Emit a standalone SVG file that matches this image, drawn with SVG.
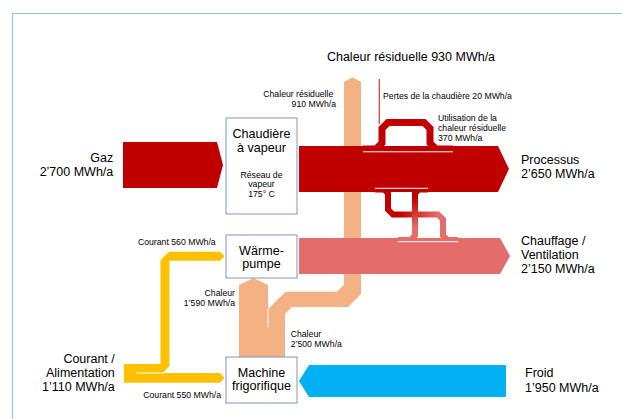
<svg xmlns="http://www.w3.org/2000/svg" width="622" height="419" viewBox="0 0 622 419">
<style>
text{font-family:"Liberation Sans",Arial,sans-serif;fill:#000}
.big{font-size:12.5px}
.box{font-size:12.6px;text-anchor:middle}
.sm{font-size:8.7px}
.end{text-anchor:end}
.mid{text-anchor:middle}
.node rect{fill:#fff;stroke:#7f93c1;stroke-width:1}
.sep{stroke:#fff;stroke-width:1;fill:none}
.band{fill:none;stroke-linejoin:miter}
</style>
<defs>
<linearGradient id="gA" gradientUnits="userSpaceOnUse" x1="400" y1="0" x2="438" y2="0">
<stop offset="0" stop-color="#c00000"/><stop offset="1" stop-color="#e46c6a"/>
</linearGradient>
<linearGradient id="gB" gradientUnits="userSpaceOnUse" x1="0" y1="198" x2="0" y2="228">
<stop offset="0" stop-color="#c00000"/><stop offset="1" stop-color="#e46c6a"/>
</linearGradient>
</defs>
<rect x="12.5" y="13.5" width="700" height="500" fill="none" stroke="#9dc3e6" stroke-width="1.2"/>

<g id="connectors">
<!-- orange heat flows -->
<polygon points="352.5,77.3 361,82 361,294 348,307 292,307 285,314 285,357 268,357 268,309 285.5,291.7 337,291.7 344,284.7 344,82" fill="#f4b183"/>
<polygon points="239,285 253.5,278 268,285 268,357 239,357" fill="#f4b183"/>
<line class="sep" x1="268" y1="309" x2="268" y2="327"/>
<!-- yellow current flows -->
<polygon points="124,364 160.5,364 160.5,260 169,251.7 220,251.7 224.5,256.2 220,260.7 169.5,260.7 169.5,366 162.5,373 124,373" fill="#ffc000"/>
<polygon points="124,373 220,373 224.5,377.8 220,382.7 124,382.7" fill="#ffc000"/>
<line class="sep" x1="136" y1="373" x2="164" y2="373"/>
<!-- main arrows -->
<polygon id="gaz" points="123,142 217,142 223,165 217,188 123,188" fill="#c00000"/>
<polygon id="processus" points="299,146 498,146 509,169 498,192 299,192" fill="#c00000"/>
<polygon id="chauffage" points="299,238 500,238 510,256 500,274 299,274" fill="#e46c6a"/>
<polygon id="froid" points="299,381 309,365 506,365 506,397 309,397" fill="#00b0f0"/>
<!-- boiler losses -->
<line x1="379.3" y1="79" x2="379.3" y2="124" stroke="#d64545" stroke-width="1.3"/>
<!-- residual heat use loop -->
<polyline class="band" points="363,149 376,149 382,143 382,128.5 388,122.5 424,122.5 430,128.5 430,143 436,149 453,149" stroke="#c00000" stroke-width="7"/>
<line class="sep" x1="363" y1="151.8" x2="453" y2="151.8"/>
<!-- process to heating connections -->
<polyline class="band" points="375,189.5 384,189.5 388,193.5 388,209.5 393,214.5 438,214.5 443,219.5 443,235.5 447.5,240 458,240" stroke="url(#gA)" stroke-width="6"/>
<polyline class="band" points="428,189.5 419,189.5 415,193.5 415,235.5 410.5,240 398,240" stroke="url(#gB)" stroke-width="6"/>
<line class="sep" x1="375" y1="188.3" x2="428" y2="188.3"/>
<line class="sep" x1="398" y1="241.7" x2="458" y2="241.7"/>
</g>

<g id="chaudiere" class="node">
<rect x="226" y="118" width="71" height="96"/>
<text class="box" x="261.5" y="138">Chaudière</text>
<text class="box" x="261.5" y="152">à vapeur</text>
<text class="sm mid" x="261.5" y="177.7">Réseau de</text>
<text class="sm mid" x="261.5" y="187">vapeur</text>
<text class="sm mid" x="261.5" y="196.7">175° C</text>
</g>
<g id="waermepumpe" class="node">
<rect x="226" y="235" width="71" height="43"/>
<text class="box" x="261.5" y="255">Wärme-</text>
<text class="box" x="261.5" y="268">pumpe</text>
</g>
<g id="machine" class="node">
<rect x="226" y="357" width="71" height="46"/>
<text class="box" x="261.5" y="377">Machine</text>
<text class="box" x="261.5" y="390">frigorifique</text>
</g>

<g id="labels">
<text class="big mid" x="411" y="61">Chaleur résiduelle 930 MWh/a</text>
<text class="sm end" x="333.3" y="97">Chaleur résiduelle</text>
<text class="sm end" x="336" y="107">910 MWh/a</text>
<text class="sm" x="383" y="99.3">Pertes de la chaudière 20 MWh/a</text>
<text class="sm" x="438" y="120.5">Utilisation de la</text>
<text class="sm" x="438" y="130.5">chaleur résiduelle</text>
<text class="sm" x="438" y="140.5">370 MWh/a</text>
<text class="big end" x="113.3" y="161.7">Gaz</text>
<text class="big end" x="113.3" y="176">2’700 MWh/a</text>
<text class="big" x="521" y="164">Processus</text>
<text class="big" x="521" y="178">2’650 MWh/a</text>
<text class="big" x="521" y="244.7">Chauffage /</text>
<text class="big" x="521" y="259">Ventilation</text>
<text class="big" x="521" y="273.3">2’150 MWh/a</text>
<text class="sm end" x="215.7" y="245">Courant 560 MWh/a</text>
<text class="sm end" x="235" y="296">Chaleur</text>
<text class="sm end" x="235" y="306">1’590 MWh/a</text>
<text class="sm" x="290.7" y="336.5">Chaleur</text>
<text class="sm" x="290.7" y="346.5">2’500 MWh/a</text>
<text class="big end" x="114.8" y="363">Courant /</text>
<text class="big end" x="114.8" y="377">Alimentation</text>
<text class="big end" x="114.8" y="391">1’110 MWh/a</text>
<text class="sm end" x="221" y="398">Courant 550 MWh/a</text>
<text class="big" x="525" y="377">Froid</text>
<text class="big" x="525" y="391.5">1’950 MWh/a</text>
</g>
</svg>
